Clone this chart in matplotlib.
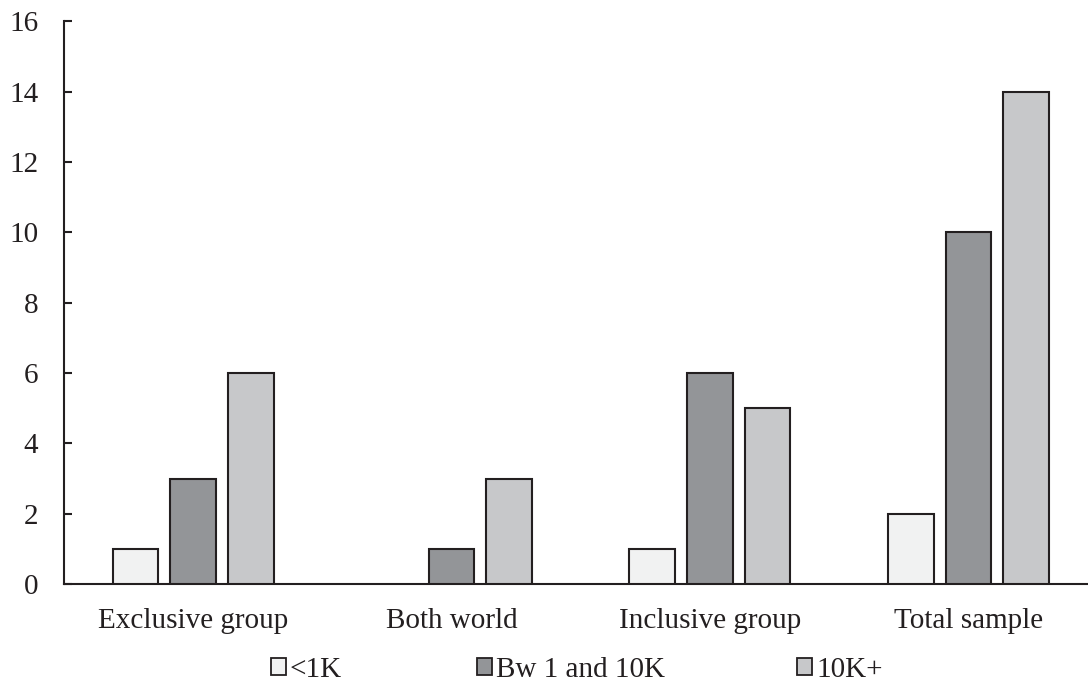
import matplotlib.pyplot as plt
import numpy as np
from matplotlib.patches import Rectangle

# data
categories = ['Exclusive group', 'Both world', 'Inclusive group', 'Total sample']
series_names = ['<1K', 'Bw 1 and 10K', '10K+']
under_1k = [1, 0, 1, 2]
bw_1_10k = [3, 1, 6, 10]
over_10k = [6, 3, 5, 14]
y_ticks = [0, 2, 4, 6, 8, 10, 12, 14, 16]

colors = ['#f1f2f2', '#939598', '#c7c8ca']
edge = '#231f20'

plt.rcParams['font.family'] = ['Liberation Serif', 'DejaVu Serif']
plt.rcParams['text.color'] = edge

fig = plt.figure(figsize=(10.88, 6.84), dpi=100)
ax = fig.add_axes([0.0588, 0.146, 0.95, 0.823])

x = np.arange(len(categories))
width = 0.177
step = 0.223
for i, vals in enumerate([under_1k, bw_1_10k, over_10k]):
    # skip zero-height bars so no flat outline is drawn
    xs = [xx + (i - 1) * step for xx, v in zip(x, vals) if v > 0]
    vs = [v for v in vals if v > 0]
    ax.bar(xs, vs, width, color=colors[i], edgecolor=edge, linewidth=1.5, zorder=3)

ax.set_xlim(-0.5, 3.5)
ax.set_ylim(0, 16)
ax.set_yticks(y_ticks)
ax.set_xticks(x)
ax.set_xticklabels(categories)

for s in ['top', 'right']:
    ax.spines[s].set_visible(False)
ax.spines['left'].set_color(edge)
ax.spines['bottom'].set_color(edge)
ax.spines['left'].set_linewidth(1.5)
ax.spines['bottom'].set_linewidth(1.5)

ax.tick_params(axis='y', direction='in', length=6, width=1.5, color=edge,
               labelsize=21, labelcolor=edge, pad=18.5)
ax.tick_params(axis='x', length=0, labelsize=21, labelcolor=edge, pad=17)

# legend entries placed one by one like the original
leg_x = [271 / 1088, 477 / 1088, 797 / 1088]
for i, name in enumerate(series_names):
    h = Rectangle((0, 0), 1, 1, facecolor=colors[i], edgecolor=edge, linewidth=1.3)
    fig.legend([h], [name], loc='center left', bbox_to_anchor=(leg_x[i], 1 - 670 / 684),
               frameon=False, fontsize=21, handlelength=0.5, handleheight=0.5,
               handletextpad=0.15, borderpad=0, borderaxespad=0)

fig.savefig('out.png', dpi=100)
